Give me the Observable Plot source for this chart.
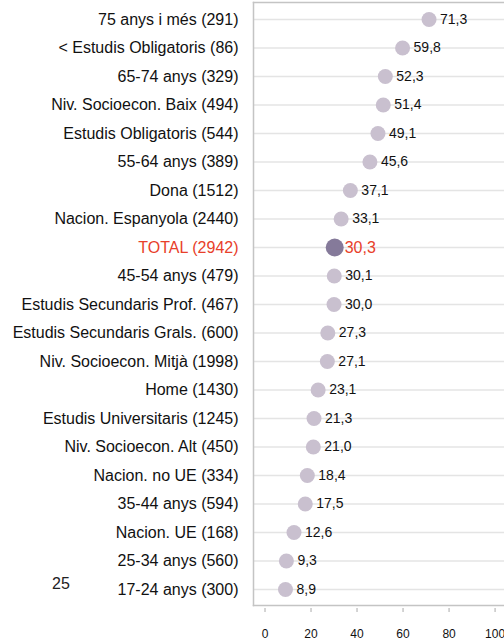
<!DOCTYPE html>
<html>
<head>
<meta charset="utf-8">
<script src="https://cdn.jsdelivr.net/npm/d3@7"></script>
<script src="https://cdn.jsdelivr.net/npm/@observablehq/plot@0.6"></script>
<style>
  html, body { margin: 0; padding: 0; background: #fff; overflow: hidden; }
  #wrap { position: relative; width: 504px; height: 640px; }
  #stray { position: absolute; left: 52px; top: 575px; font: 16px "Liberation Sans", Arial, sans-serif; line-height: 18px; color: #222; }
</style>
</head>
<body>
<div id="wrap"><div id="chart"></div><span id="stray">25</span></div>
<script>
const categories = [
  "75 anys i més (291)",
  "< Estudis Obligatoris (86)",
  "65-74 anys (329)",
  "Niv. Socioecon. Baix (494)",
  "Estudis Obligatoris (544)",
  "55-64 anys (389)",
  "Dona (1512)",
  "Nacion. Espanyola (2440)",
  "TOTAL (2942)",
  "45-54 anys (479)",
  "Estudis Secundaris Prof. (467)",
  "Estudis Secundaris Grals. (600)",
  "Niv. Socioecon. Mitjà (1998)",
  "Home (1430)",
  "Estudis Universitaris (1245)",
  "Niv. Socioecon. Alt (450)",
  "Nacion. no UE (334)",
  "35-44 anys (594)",
  "Nacion. UE (168)",
  "25-34 anys (560)",
  "17-24 anys (300)"
];
const values = [71.3, 59.8, 52.3, 51.4, 49.1, 45.6, 37.1, 33.1, 30.3, 30.1, 30.0, 27.3, 27.1, 23.1, 21.3, 21.0, 18.4, 17.5, 12.6, 9.3, 8.9];
const xTicks = [0, 20, 40, 60, 80, 100];
const totalLabel = "TOTAL (2942)";

const data = categories.map((c, i) => ({cat: c, v: values[i], total: c === totalLabel}));
const fmt = v => v.toFixed(1).replace(".", ",");
const font = "Liberation Sans, Arial, sans-serif";

const chart = Plot.plot({
  width: 504,
  height: 640,
  marginLeft: 253,
  marginRight: 0,
  marginTop: 2,
  marginBottom: 35,
  style: {fontFamily: font, fontSize: "16px", background: "#fff"},
  x: {domain: [-5, 104.1], axis: null},
  y: {type: "point", domain: categories, range: [19, 589], padding: 0, round: false, axis: null},
  marks: [
    Plot.gridY(categories, {stroke: "#e4e4e4", strokeOpacity: 1, strokeWidth: 1.5}),
    Plot.frame({anchor: "left", stroke: "#c4c4c4", strokeWidth: 1.5}),
    Plot.frame({anchor: "top", stroke: "#c4c4c4", strokeWidth: 1.5}),
    Plot.frame({anchor: "bottom", stroke: "#c4c4c4", strokeWidth: 1.5}),
    Plot.axisX({ticks: xTicks, tickSize: 4, dy: 3, stroke: "#aaa", tickPadding: 17, fontSize: 12, fill: "#111", label: null, tickFormat: d => String(d)}),
    Plot.text(data, {y: "cat", text: "cat", frameAnchor: "left", dx: -15, textAnchor: "end", fill: d => d.total ? "#e8402a" : "#111", fontSize: 16}),
    Plot.dot(data.filter(d => !d.total), {x: "v", y: "cat", r: 7.5, fill: "#c9c0cf", stroke: "none"}),
    Plot.dot(data.filter(d => d.total), {x: "v", y: "cat", r: 9, fill: "#857a9a", stroke: "none"}),
    Plot.text(data.filter(d => !d.total), {x: "v", y: "cat", text: d => fmt(d.v), dx: 11, textAnchor: "start", fill: "#111", fontSize: 14}),
    Plot.text(data.filter(d => d.total), {x: "v", y: "cat", text: d => fmt(d.v), dx: 10, textAnchor: "start", fill: "#e8402a", fontSize: 16})
  ]
});
document.getElementById("chart").appendChild(chart);
</script>
</body>
</html>
